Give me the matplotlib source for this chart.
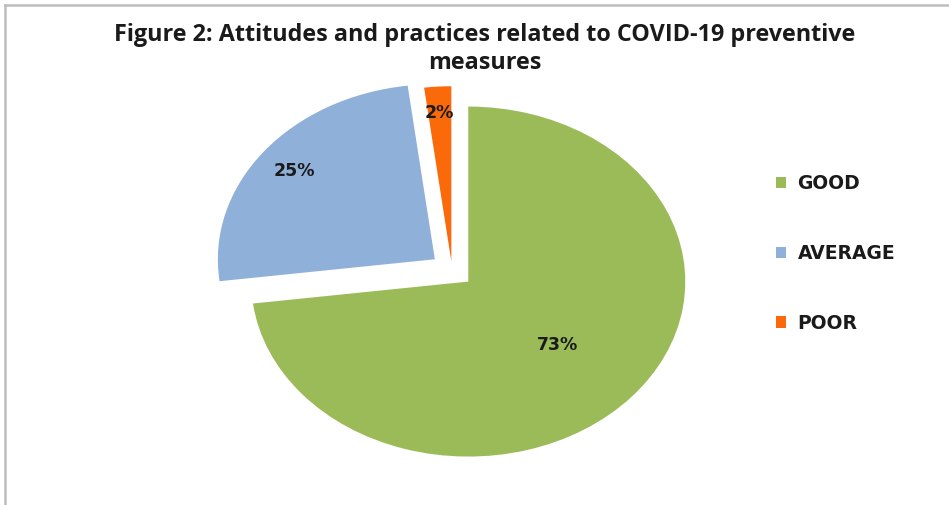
import matplotlib
matplotlib.use("Agg")
import matplotlib.pyplot as plt
from matplotlib.lines import Line2D
import numpy as np

# ---- data ----
categories = ["GOOD", "AVERAGE", "POOR"]
shares = [73, 25, 2]
colors = ["#9BBB59", "#8FB0D9", "#FA6A0A"]
explode = [0.10, 0.10, 0.05]
label_dist = [0.55, 0.82, 0.85]
title = "Figure 2: Attitudes and practices related to COVID-19 preventive\nmeasures"

W, H = 949, 505
fig = plt.figure(figsize=(W / 100, H / 100), dpi=100)
fig.patch.set_facecolor("white")

# axes box sized so the pie comes out as a wide ellipse
ax = fig.add_axes([169.9 / W, 7.5 / H, 564.2 / W, 455 / H])
wedges, texts, autotexts = ax.pie(
    shares, colors=colors, explode=explode, startangle=90, counterclock=False,
    autopct="%.0f%%", wedgeprops=dict(linewidth=0),
    textprops=dict(fontfamily="DejaVu Sans", fontweight="bold", fontsize=12.5,
                   color="#1a1a1a"))
ax.set_aspect("auto")
ax.set_xlim(-1.3, 1.3)
ax.set_ylim(-1.3, 1.3)

# move percentage labels to per-slice distances
for w, t, d in zip(wedges, autotexts, label_dist):
    mid = np.deg2rad((w.theta1 + w.theta2) / 2)
    cx, cy = w.center
    t.set_position((cx + d * np.cos(mid), cy + d * np.sin(mid)))

fig.text(485 / W, 1 - 49 / H, title, ha="center", va="center",
         fontfamily="Open Sans", fontweight="bold", fontsize=16.8,
         linespacing=1.2, color="#1a1a1a")

leg = fig.legend(wedges, categories, loc="center left",
                 bbox_to_anchor=(776 / W, 1 - 253.5 / H),
                 bbox_transform=fig.transFigure, frameon=False,
                 borderpad=0, borderaxespad=0, labelspacing=2.7,
                 handlelength=0.55, handleheight=0.55, handletextpad=0.6,
                 prop=dict(family="DejaVu Sans", weight="bold", size=13.5))
for t in leg.get_texts():
    t.set_color("#1a1a1a")

# outer chart border (top and left edges visible)
fig.add_artist(Line2D([5 / W, 1], [1 - 5 / H, 1 - 5 / H], transform=fig.transFigure,
                      color="#BDBDBD", linewidth=1.8))
fig.add_artist(Line2D([5 / W, 5 / W], [0, 1 - 5 / H], transform=fig.transFigure,
                      color="#BDBDBD", linewidth=1.8))

fig.savefig("out.png", dpi=100)
